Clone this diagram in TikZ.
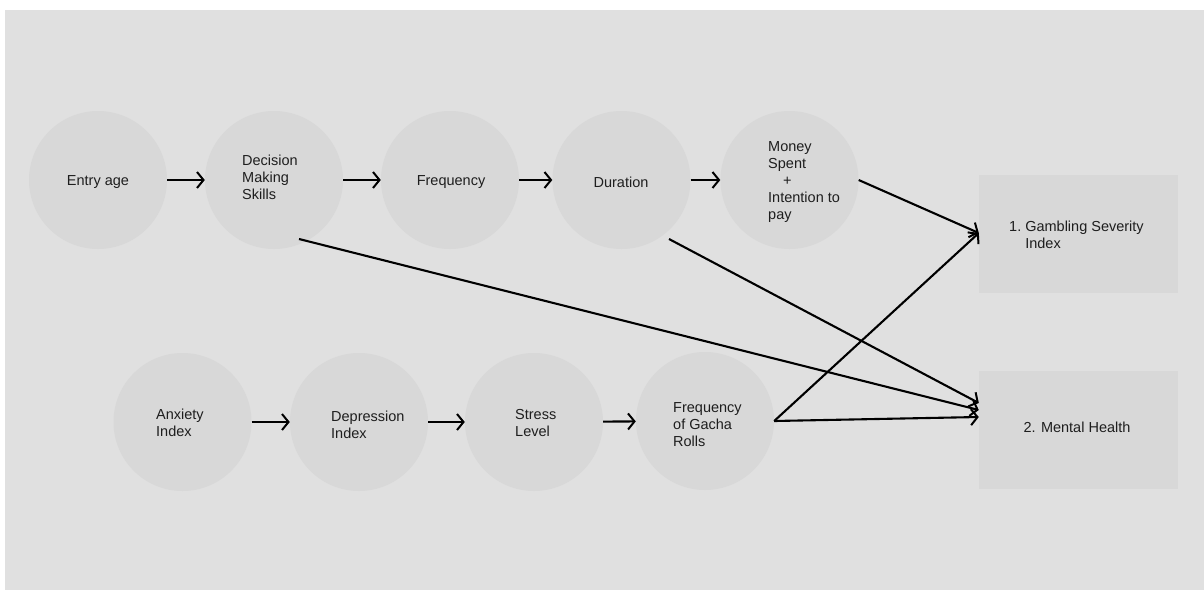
\documentclass[tikz,border=0pt]{standalone}
\usepackage{fontspec}
\setmainfont{Liberation Sans}
\usetikzlibrary{arrows.meta,calc}
\definecolor{panel}{HTML}{E0E0E0}
\definecolor{shape}{HTML}{D8D8D8}
\definecolor{ink}{HTML}{1E1E1E}
\tikzset{
  bub/.style={circle,fill=shape,minimum size=138pt,inner sep=0pt},
  box/.style={rectangle,fill=shape,minimum width=199pt,minimum height=118pt,inner sep=0pt},
  txt/.style={text=ink,font=\fontsize{14.5pt}{17pt}\selectfont,align=left,inner sep=0pt},
  arr/.style={-{Straight Barb[length=6.5pt,width=16pt,line width=2pt]},line width=2.1pt,black}
}
\begin{document}
\begin{tikzpicture}[x=1pt,y=-1pt]
\useasboundingbox (0,0) rectangle (1204,590);
\fill[white] (0,0) rectangle (1204,590);
\fill[panel] (5,10) rectangle (1204,590);

% top row
\node[bub] (entry) at (98,180) {};
\node[bub] (dms) at (274,180) {};
\node[bub] (freq) at (450,180) {};
\node[bub] (dur) at (621.5,180) {};
\node[bub] (money) at (789.5,180) {};
% bottom row
\node[bub] (anx) at (182.5,422) {};
\node[bub] (dep) at (359,422) {};
\node[bub] (stress) at (534,422) {};
\node[bub] (gacha) at (705,421) {};
% outcome boxes
\node[box] (gsi) at (1078.5,234) {};
\node[box] (mh) at (1078.5,430) {};

% texts
\node[txt] (t-entry) at (98,182) {Entry age};
\node[txt,anchor=west] (t-dms) at (242,177) {Decision\\Making\\Skills};
\node[txt] (t-freq) at (451,182) {Frequency};
\node[txt] (t-dur) at (621,182) {Duration};
\node[txt,anchor=west] (t-money) at (768,182) {Money\\Spent\\\hspace{15pt}+\\Intention to\\pay};
\node[txt,anchor=west] (t-anx) at (156,422.5) {Anxiety\\Index};
\node[txt,anchor=west] (t-dep) at (331,424.5) {Depression\\Index};
\node[txt,anchor=west] (t-stress) at (515,422.5) {Stress\\Level};
\node[txt,anchor=west] (t-gacha) at (673,425) {Frequency\\of Gacha\\Rolls};
\node[txt,anchor=west] (t-gsi) at (1009,237) {\begin{tabular}{@{}l@{\hspace{4pt}}l@{}}1.&Gambling Severity\\&Index\end{tabular}};
\node[txt] (t-mh) at (1077,427) {2. Mental Health};

% connectors
\coordinate (dmsout) at (299,239);
\coordinate (durout) at (669,239);
\draw[arr] (entry) -- (dms);
\draw[arr] (dms) -- (freq);
\draw[arr] (freq) -- (dur);
\draw[arr] (dur) -- (money);
\draw[arr] (anx) -- (dep);
\draw[arr] (dep) -- (stress);
\draw[arr] (stress) -- (gacha);
\draw[arr] (money.east) -- ([yshift=1pt]gsi.west);
\draw[arr] (gacha.east) -- ([yshift=1pt]gsi.west);
\draw[arr] (durout) -- ([yshift=27pt]mh.west);
\draw[arr] (dmsout) -- ([yshift=20pt]mh.west);
\draw[arr] (gacha.east) -- ([yshift=13pt]mh.west);
\end{tikzpicture}
\end{document}
